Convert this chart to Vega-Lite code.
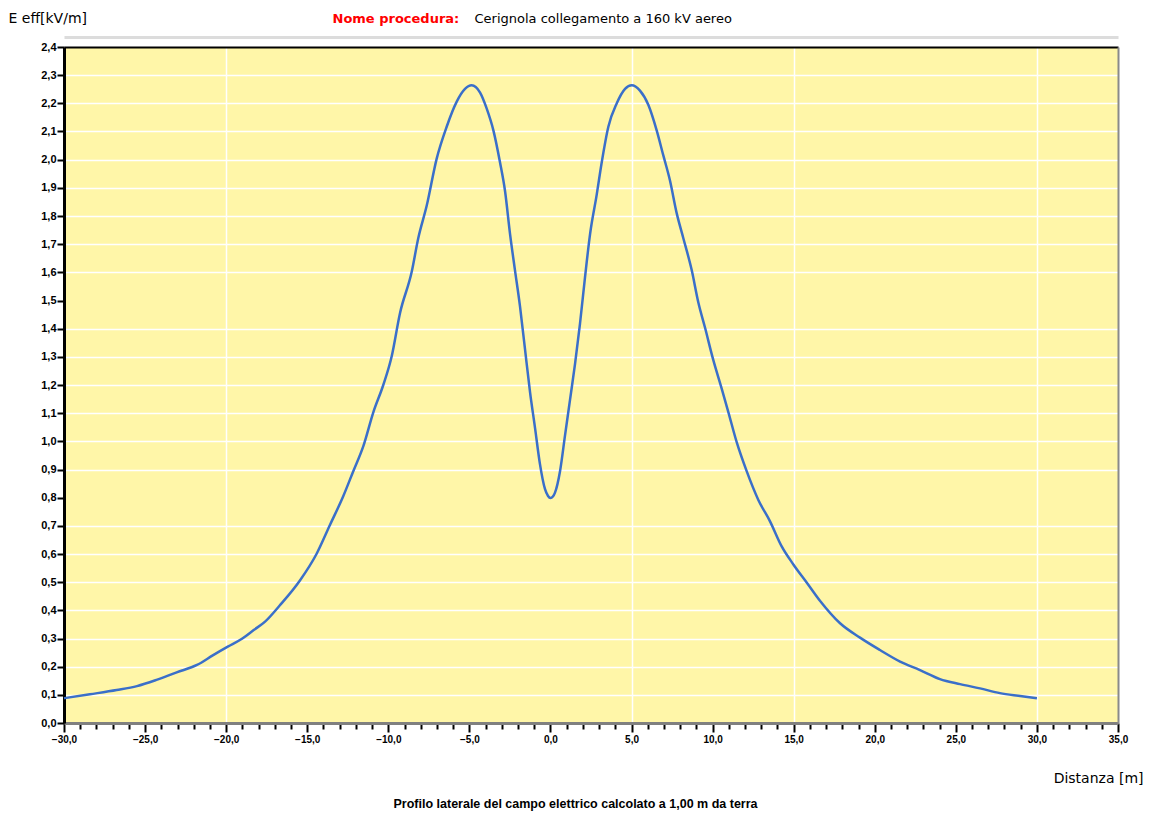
{
  "$schema": "https://vega.github.io/schema/vega-lite/v6.json",
  "width": 1054,
  "height": 676,
  "autosize": {"type": "none"},
  "padding": {"left": 64, "top": 47, "right": 36, "bottom": 93},
  "background": "white",
  "view": {"fill": "#FFF6A8", "stroke": null},
  "data": {"values": [
    {"d": -30, "e": 0.088}, {"d": -28.4, "e": 0.102}, {"d": -26.75, "e": 0.117}, {"d": -25.5, "e": 0.131},
    {"d": -24.3, "e": 0.153}, {"d": -23.05, "e": 0.18}, {"d": -21.8, "e": 0.206}, {"d": -20.8, "e": 0.241},
    {"d": -19.9, "e": 0.271}, {"d": -19.0, "e": 0.3}, {"d": -18.3, "e": 0.33}, {"d": -17.6, "e": 0.36},
    {"d": -16.7, "e": 0.417}, {"d": -15.45, "e": 0.506}, {"d": -14.42, "e": 0.601}, {"d": -13.6, "e": 0.703},
    {"d": -12.78, "e": 0.805}, {"d": -12.16, "e": 0.894}, {"d": -11.54, "e": 0.983}, {"d": -10.92, "e": 1.104},
    {"d": -10.31, "e": 1.2}, {"d": -9.79, "e": 1.302}, {"d": -9.28, "e": 1.455}, {"d": -8.56, "e": 1.601},
    {"d": -8.15, "e": 1.722}, {"d": -7.63, "e": 1.837}, {"d": -7.02, "e": 2.003}, {"d": -6.4, "e": 2.117},
    {"d": -5.78, "e": 2.206}, {"d": -5.27, "e": 2.251}, {"d": -4.86, "e": 2.264}, {"d": -4.34, "e": 2.238},
    {"d": -3.93, "e": 2.181}, {"d": -3.52, "e": 2.104}, {"d": -3.11, "e": 1.99}, {"d": -2.8, "e": 1.888},
    {"d": -2.49, "e": 1.735}, {"d": -2.19, "e": 1.608}, {"d": -1.88, "e": 1.48}, {"d": -1.57, "e": 1.327},
    {"d": -1.26, "e": 1.175}, {"d": -0.95, "e": 1.047}, {"d": -0.65, "e": 0.92}, {"d": -0.34, "e": 0.831},
    {"d": -0.15, "e": 0.806}, {"d": 0, "e": 0.799}, {"d": 0.15, "e": 0.804}, {"d": 0.28, "e": 0.818}, {"d": 0.59, "e": 0.894}, {"d": 0.9, "e": 1.022},
    {"d": 1.21, "e": 1.149}, {"d": 1.52, "e": 1.277}, {"d": 1.82, "e": 1.417}, {"d": 2.13, "e": 1.582},
    {"d": 2.44, "e": 1.735}, {"d": 2.85, "e": 1.875}, {"d": 3.16, "e": 1.99}, {"d": 3.57, "e": 2.117},
    {"d": 4.09, "e": 2.2}, {"d": 4.6, "e": 2.251}, {"d": 5.01, "e": 2.264}, {"d": 5.52, "e": 2.245},
    {"d": 6.04, "e": 2.194}, {"d": 6.55, "e": 2.104}, {"d": 6.96, "e": 2.015}, {"d": 7.37, "e": 1.926},
    {"d": 7.78, "e": 1.811}, {"d": 8.19, "e": 1.722}, {"d": 8.71, "e": 1.608}, {"d": 9.12, "e": 1.493},
    {"d": 9.53, "e": 1.404}, {"d": 10.04, "e": 1.289}, {"d": 10.56, "e": 1.187}, {"d": 10.97, "e": 1.104},
    {"d": 11.49, "e": 0.996}, {"d": 12.1, "e": 0.894}, {"d": 12.82, "e": 0.792}, {"d": 13.54, "e": 0.716},
    {"d": 14.26, "e": 0.627}, {"d": 14.98, "e": 0.563}, {"d": 15.8, "e": 0.499}, {"d": 16.62, "e": 0.434},
    {"d": 17.86, "e": 0.354}, {"d": 19.09, "e": 0.303}, {"d": 20.32, "e": 0.259}, {"d": 21.56, "e": 0.218},
    {"d": 22.79, "e": 0.188}, {"d": 24.02, "e": 0.156}, {"d": 25.26, "e": 0.138}, {"d": 26.49, "e": 0.123},
    {"d": 27.72, "e": 0.106}, {"d": 28.96, "e": 0.096}, {"d": 30, "e": 0.088}
  ]},
  "config": {
    "axis": {"labelFont": "Liberation Sans", "titleFont": "DejaVu Sans", "labelColor": "black", "titleColor": "black"}
  },
  "layer": [
    {
      "mark": {"type": "line", "opacity": 0},
      "encoding": {
        "x": {"field": "d", "type": "quantitative", "scale": {"domain": [-30, 35], "nice": false, "zero": false},
          "axis": {"orient": "top", "offset": 10, "domainColor": "#dcdcdc", "domainWidth": 3, "ticks": false, "labels": false, "grid": false, "title": null}},
        "y": {"field": "e", "type": "quantitative", "scale": {"domain": [0, 2.4], "nice": false},
          "axis": {"orient": "right", "domainColor": "#8a8a8a", "domainWidth": 2, "ticks": false, "labels": false,
            "grid": true, "gridColor": "white", "gridWidth": 1.5, "gridOpacity": 1,
            "values": [0.1,0.2,0.3,0.4,0.5,0.6,0.7,0.9,1.0,1.1,1.2,1.3,1.4,1.6,1.7,1.8,1.9,2.0,2.1,2.2,2.3],
            "title": "Nome procedura:", "titleColor": "#FF0000", "titleFontSize": 13, "titleFontWeight": "bold",
            "titleAngle": 0, "titleAlign": "left", "titleBaseline": "alphabetic", "titleX": -786, "titleY": -25}}
      }
    },
    {
      "mark": {"type": "line", "opacity": 0},
      "encoding": {
        "x": {"field": "d", "type": "quantitative",
          "axis": {"orient": "top", "domainColor": "black", "domainWidth": 2, "ticks": false, "labels": false,
            "grid": true, "gridColor": "white", "gridWidth": 1.5, "gridOpacity": 1, "values": [-20, 5, 15, 30],
            "title": "Cerignola collegamento a 160 kV aereo", "titleFontSize": 13, "titleFontWeight": "normal",
            "titleAlign": "left", "titleBaseline": "alphabetic", "titleX": 410, "titleY": -25}},
        "y": {"field": "e", "type": "quantitative",
          "axis": {"orient": "left", "domainColor": "black", "domainWidth": 3, "tickColor": "black", "tickWidth": 2, "tickSize": 7,
            "grid": false, "values": [0,0.1,0.2,0.3,0.4,0.5,0.6,0.7,0.8,0.9,1.0,1.1,1.2,1.3,1.4,1.5,1.6,1.7,1.8,1.9,2.0,2.1,2.2,2.3,2.4],
            "labelExpr": "replace(format(datum.value, '.1f'), '.', ',')", "labelFontSize": 11, "labelFontWeight": "bold", "labelPadding": 1,
            "title": "E eff[kV/m]", "titleFontSize": 14, "titleFontWeight": "normal", "titleAngle": 0,
            "titleAlign": "left", "titleBaseline": "alphabetic", "titleX": -56, "titleY": -25}}
      }
    },
    {
      "mark": {"type": "line", "opacity": 0},
      "encoding": {
        "x": {"field": "d", "type": "quantitative",
          "axis": {"orient": "bottom", "domain": false, "labels": false, "grid": false, "tickColor": "black", "tickWidth": 2, "tickSize": 6,
            "values": [-29,-28,-27,-26,-24,-23,-22,-21,-19,-18,-17,-16,-14,-13,-12,-11,-9,-8,-7,-6,-4,-3,-2,-1,1,2,3,4,6,7,8,9,11,12,13,14,16,17,18,19,21,22,23,24,26,27,28,29,31,32,33,34],
            "title": "Profilo laterale del campo elettrico calcolato a 1,00 m da terra", "titleFont": "Liberation Sans",
            "titleFontSize": 12.5, "titleFontWeight": "bold", "titleAlign": "center", "titleBaseline": "alphabetic", "titleX": 511, "titleY": 84}},
        "y": {"field": "e", "type": "quantitative", "axis": null}
      }
    },
    {
      "mark": {"type": "line", "color": "#3A6FC9", "strokeWidth": 2.5, "interpolate": "monotone"},
      "encoding": {
        "x": {"field": "d", "type": "quantitative",
          "axis": {"orient": "bottom", "domainColor": "#808080", "domainWidth": 3, "tickColor": "black", "tickWidth": 2, "tickSize": 9,
            "grid": false, "values": [-30,-25,-20,-15,-10,-5,0,5,10,15,20,25,30,35],
            "labelExpr": "replace(format(datum.value, '.1f'), '.', ',')", "labelFontSize": 10, "labelFontWeight": "bold", "labelPadding": 2,
            "labelFlush": false,
            "title": "Distanza [m]", "titleFontSize": 14, "titleFontWeight": "normal",
            "titleAlign": "right", "titleBaseline": "alphabetic", "titleX": 1079, "titleY": 59}},
        "y": {"field": "e", "type": "quantitative", "axis": null}
      }
    }
  ],
  "resolve": {"axis": {"x": "independent", "y": "independent"}}
}
